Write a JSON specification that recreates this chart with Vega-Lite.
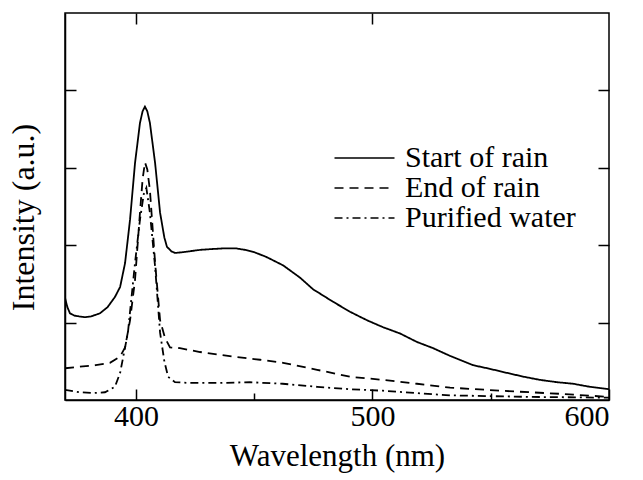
{
  "$schema": "https://vega.github.io/schema/vega-lite/v6.json",
  "autosize": "none",
  "width": 544,
  "height": 387,
  "padding": {"left": 65, "top": 13, "right": 34, "bottom": 80},
  "background": "white",
  "config": {
    "font": "Liberation Serif",
    "view": {"stroke": "black", "strokeWidth": 1.5},
    "axis": {"domainColor": "black", "domainWidth": 1.5, "tickColor": "black", "tickWidth": 1.5, "grid": false, "labelFont": "Liberation Serif", "titleFont": "Liberation Serif", "labelColor": "black", "titleColor": "black", "titleFontWeight": "normal", "labelFontSize": 30, "titleFontSize": 31}
  },
  "data": {"values": [
    {"s":"Start of rain","x":370,"y":1.32},{"s":"Start of rain","x":371,"y":1.2},{"s":"Start of rain","x":372.1,"y":1.12},{"s":"Start of rain","x":374,"y":1.09},{"s":"Start of rain","x":376,"y":1.08},{"s":"Start of rain","x":378.5,"y":1.07},{"s":"Start of rain","x":381,"y":1.08},{"s":"Start of rain","x":384.8,"y":1.12},{"s":"Start of rain","x":388,"y":1.2},{"s":"Start of rain","x":391.1,"y":1.33},{"s":"Start of rain","x":393.3,"y":1.46},{"s":"Start of rain","x":395.4,"y":1.77},{"s":"Start of rain","x":397.5,"y":2.33},{"s":"Start of rain","x":399.6,"y":3.06},{"s":"Start of rain","x":401.7,"y":3.58},{"s":"Start of rain","x":402.8,"y":3.73},{"s":"Start of rain","x":403.8,"y":3.79},{"s":"Start of rain","x":404.8,"y":3.73},{"s":"Start of rain","x":405.9,"y":3.58},{"s":"Start of rain","x":408.1,"y":3.06},{"s":"Start of rain","x":410.2,"y":2.42},{"s":"Start of rain","x":412,"y":2.1},{"s":"Start of rain","x":413.1,"y":1.98},{"s":"Start of rain","x":415,"y":1.92},{"s":"Start of rain","x":416.5,"y":1.9},{"s":"Start of rain","x":420,"y":1.91},{"s":"Start of rain","x":427.1,"y":1.94},{"s":"Start of rain","x":432,"y":1.95},{"s":"Start of rain","x":437.7,"y":1.96},{"s":"Start of rain","x":442,"y":1.96},{"s":"Start of rain","x":446.1,"y":1.94},{"s":"Start of rain","x":450,"y":1.91},{"s":"Start of rain","x":455,"y":1.85},{"s":"Start of rain","x":462.2,"y":1.74},{"s":"Start of rain","x":469.4,"y":1.58},{"s":"Start of rain","x":474.9,"y":1.43},{"s":"Start of rain","x":483.3,"y":1.27},{"s":"Start of rain","x":490.5,"y":1.14},{"s":"Start of rain","x":497.7,"y":1.03},{"s":"Start of rain","x":504.5,"y":0.94},{"s":"Start of rain","x":511.6,"y":0.86},{"s":"Start of rain","x":518.8,"y":0.75},{"s":"Start of rain","x":525.6,"y":0.67},{"s":"Start of rain","x":532.8,"y":0.57},{"s":"Start of rain","x":542.5,"y":0.45},{"s":"Start of rain","x":550,"y":0.4},{"s":"Start of rain","x":556.9,"y":0.35},{"s":"Start of rain","x":564,"y":0.3},{"s":"Start of rain","x":570.8,"y":0.26},{"s":"Start of rain","x":578,"y":0.23},{"s":"Start of rain","x":584.8,"y":0.21},{"s":"Start of rain","x":592,"y":0.17},{"s":"Start of rain","x":600,"y":0.14},
    {"s":"End of rain","x":370,"y":0.41},{"s":"End of rain","x":376.3,"y":0.43},{"s":"End of rain","x":383,"y":0.45},{"s":"End of rain","x":389,"y":0.48},{"s":"End of rain","x":393.3,"y":0.56},{"s":"End of rain","x":395.4,"y":0.68},{"s":"End of rain","x":397.5,"y":1.03},{"s":"End of rain","x":399.6,"y":1.55},{"s":"End of rain","x":401.7,"y":2.42},{"s":"End of rain","x":402.8,"y":2.85},{"s":"End of rain","x":403.8,"y":3.07},{"s":"End of rain","x":404.8,"y":2.98},{"s":"End of rain","x":405.9,"y":2.71},{"s":"End of rain","x":408.1,"y":1.77},{"s":"End of rain","x":410.2,"y":1.03},{"s":"End of rain","x":412.3,"y":0.8},{"s":"End of rain","x":414.4,"y":0.68},{"s":"End of rain","x":418.6,"y":0.67},{"s":"End of rain","x":427.1,"y":0.62},{"s":"End of rain","x":441,"y":0.56},{"s":"End of rain","x":452.5,"y":0.52},{"s":"End of rain","x":462.2,"y":0.48},{"s":"End of rain","x":476.6,"y":0.39},{"s":"End of rain","x":490.5,"y":0.3},{"s":"End of rain","x":504.5,"y":0.26},{"s":"End of rain","x":518.8,"y":0.21},{"s":"End of rain","x":532.8,"y":0.16},{"s":"End of rain","x":553.9,"y":0.12},{"s":"End of rain","x":579.3,"y":0.08},{"s":"End of rain","x":600,"y":0.04},
    {"s":"Purified water","x":370,"y":0.13},{"s":"Purified water","x":376.3,"y":0.1},{"s":"Purified water","x":382,"y":0.09},{"s":"Purified water","x":386.9,"y":0.1},{"s":"Purified water","x":391.1,"y":0.17},{"s":"Purified water","x":393.3,"y":0.35},{"s":"Purified water","x":396.6,"y":0.87},{"s":"Purified water","x":399.6,"y":1.77},{"s":"Purified water","x":401.7,"y":2.33},{"s":"Purified water","x":403.3,"y":2.66},{"s":"Purified water","x":404.4,"y":2.74},{"s":"Purified water","x":405.9,"y":2.42},{"s":"Purified water","x":408.1,"y":1.72},{"s":"Purified water","x":410.2,"y":0.87},{"s":"Purified water","x":412,"y":0.5},{"s":"Purified water","x":413.6,"y":0.3},{"s":"Purified water","x":416.5,"y":0.23},{"s":"Purified water","x":422.9,"y":0.22},{"s":"Purified water","x":435,"y":0.22},{"s":"Purified water","x":448.2,"y":0.23},{"s":"Purified water","x":462,"y":0.21},{"s":"Purified water","x":476.6,"y":0.17},{"s":"Purified water","x":490,"y":0.14},{"s":"Purified water","x":504.5,"y":0.12},{"s":"Purified water","x":518,"y":0.09},{"s":"Purified water","x":532.8,"y":0.06},{"s":"Purified water","x":550,"y":0.05},{"s":"Purified water","x":566.6,"y":0.04},{"s":"Purified water","x":600,"y":0.03}
  ]},
  "resolve": {"axis": {"x": "independent", "y": "independent"}},
  "layer": [
    {
      "mark": {"type": "line", "color": "black", "strokeWidth": 1.8, "clip": true},
      "encoding": {
        "x": {"field": "x", "type": "quantitative", "scale": {"domain": [370, 600], "nice": false, "zero": false},
          "axis": {"orient": "bottom", "values": [400, 500, 600], "tickSize": -11, "labelPadding": 12, "title": "Wavelength (nm)", "titlePadding": 10}},
        "y": {"field": "y", "type": "quantitative", "scale": {"domain": [0, 5], "nice": false, "zero": false},
          "axis": {"orient": "left", "values": [1, 2, 3, 4], "tickSize": -11, "labels": false, "title": "Intensity (a.u.)", "titleFontSize": 32, "titlePadding": 24, "titleY": 204}},
        "strokeDash": {"field": "s", "type": "nominal",
          "scale": {"domain": ["Start of rain", "End of rain", "Purified water"], "range": [[1, 0], [9, 6], [8, 4, 2, 4]]},
          "legend": {"title": null, "orient": "none", "legendX": 284.5, "legendY": 130, "padding": 0, "symbolType": "M-4,0H4", "symbolSize": 225, "symbolStrokeWidth": 1.6, "symbolStrokeColor": "black", "symbolFillColor": "transparent", "labelFont": "Liberation Serif", "labelFontSize": 30, "labelColor": "black", "labelOffset": 25.5, "rowPadding": -5, "labelLimit": 400}}
      }
    },
    {
      "mark": {"type": "line", "color": "black", "opacity": 0},
      "encoding": {
        "x": {"field": "x", "type": "quantitative", "axis": {"orient": "top", "values": [400, 500], "tickSize": -11, "labels": false, "title": null, "domain": false}},
        "y": {"field": "y", "type": "quantitative", "axis": {"orient": "right", "values": [1, 2, 3, 4], "tickSize": -11, "labels": false, "title": null, "domain": false}},
        "detail": {"field": "s"}
      }
    },
    {
      "mark": {"type": "line", "color": "black", "opacity": 0},
      "encoding": {
        "x": {"field": "x", "type": "quantitative", "axis": {"orient": "bottom", "values": [450, 550], "tickSize": -7, "labels": false, "title": null, "domain": false}},
        "y": {"field": "y", "type": "quantitative", "axis": null},
        "detail": {"field": "s"}
      }
    }
  ]
}
